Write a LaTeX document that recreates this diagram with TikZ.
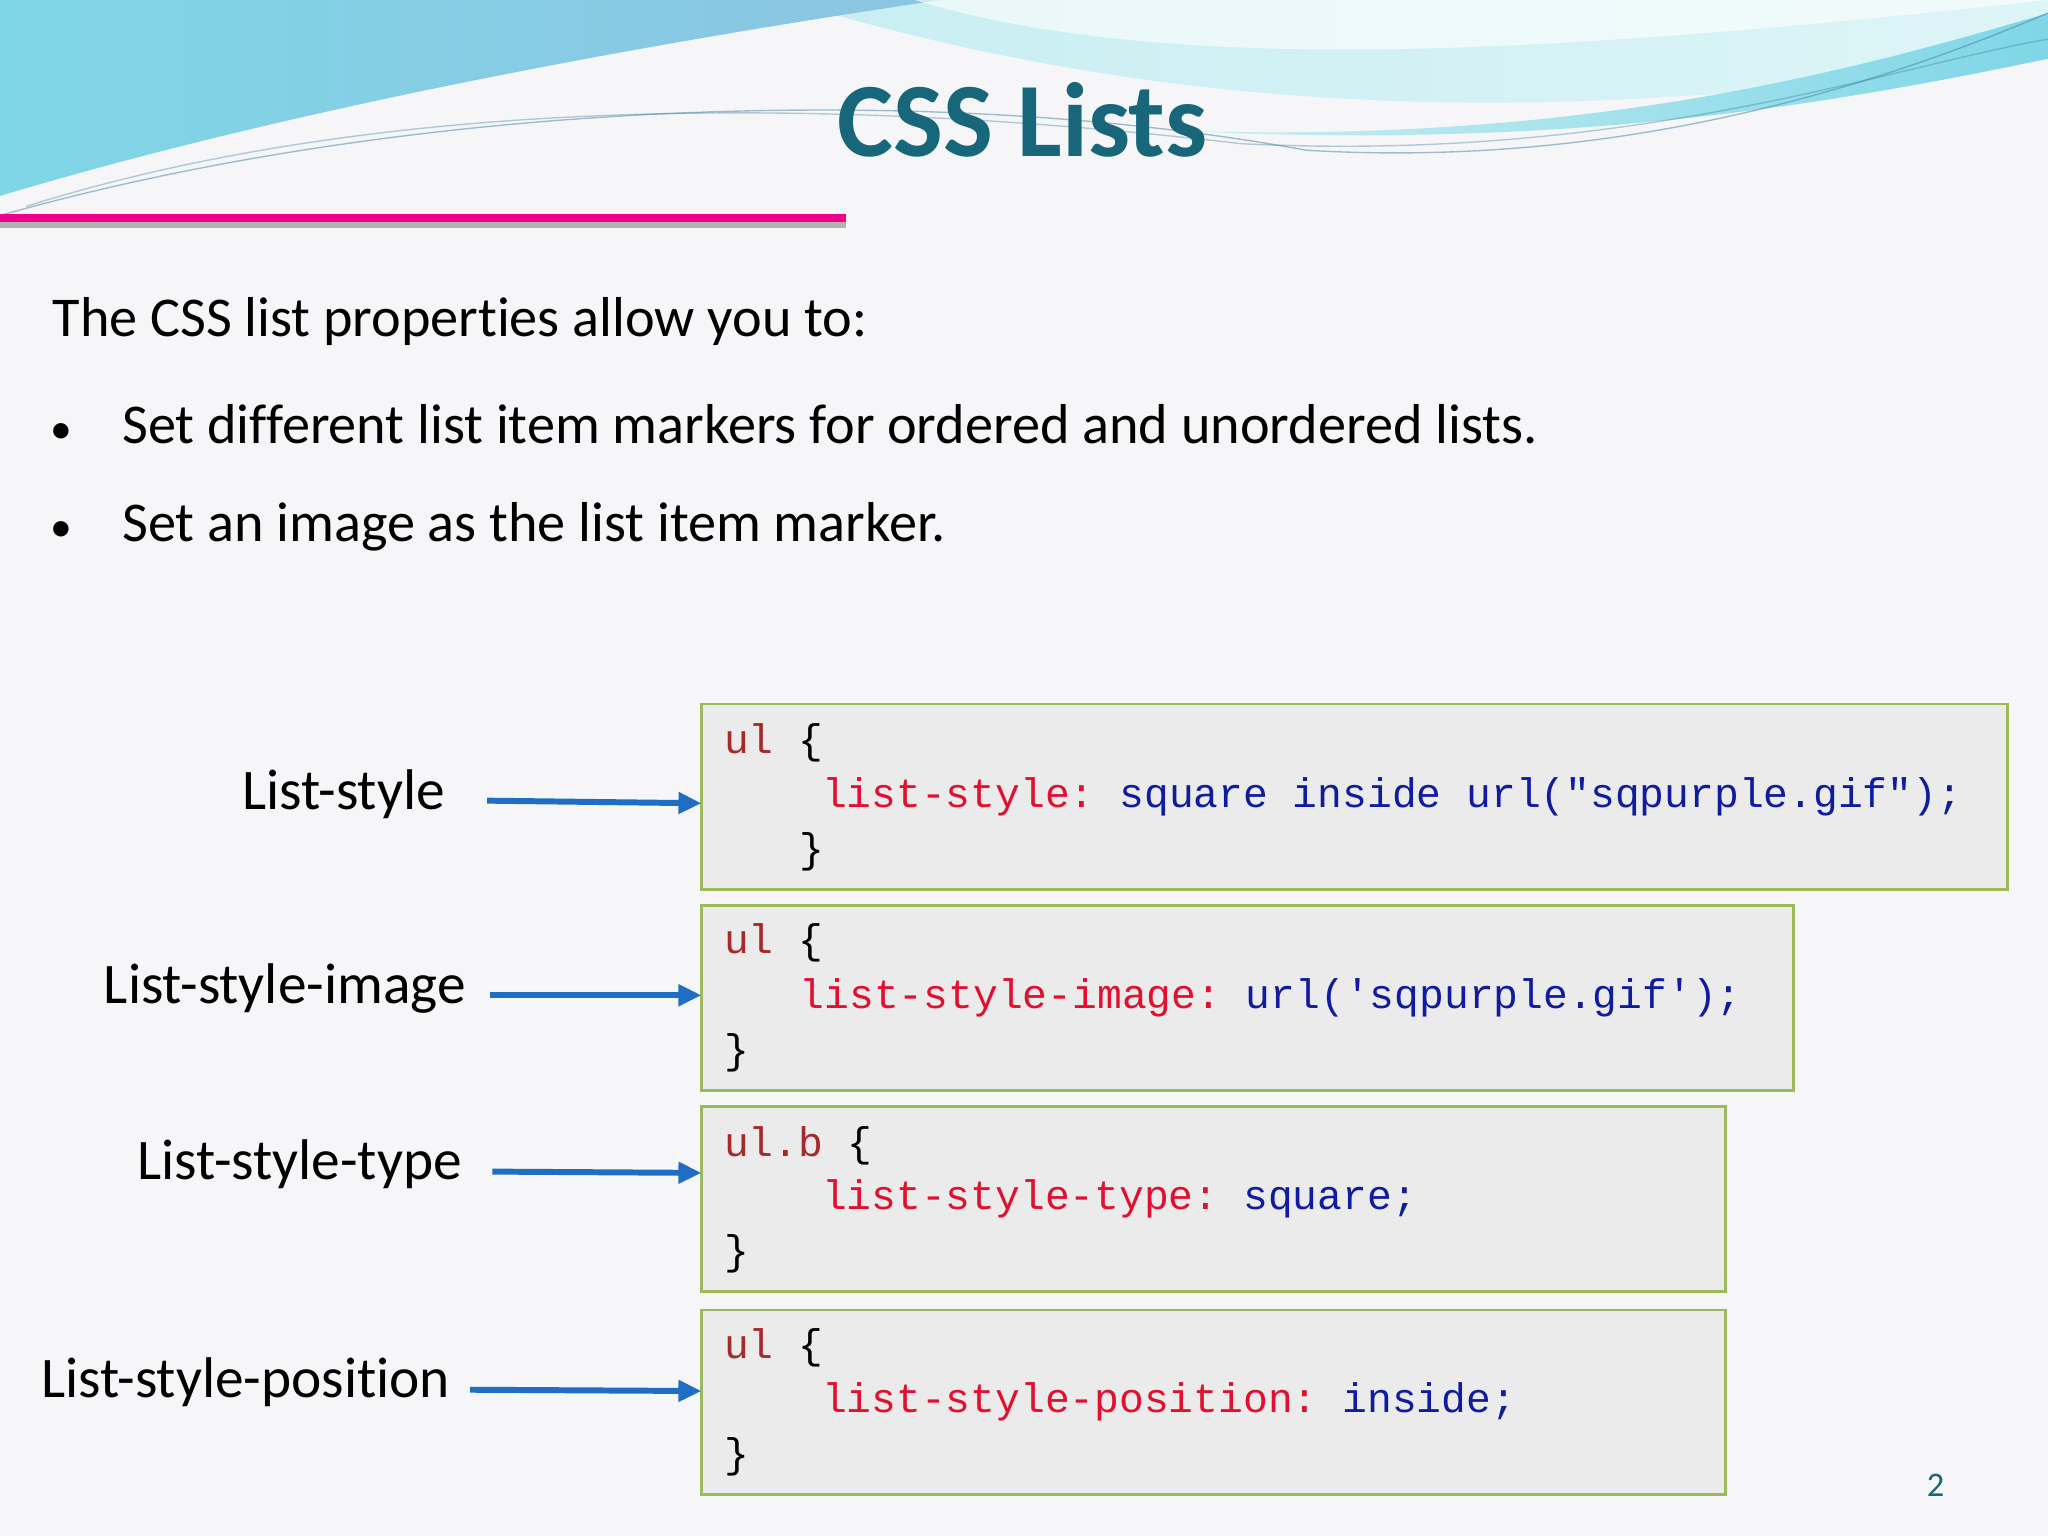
\documentclass[tikz,border=0pt]{standalone}
\usepackage{fontspec}
\setmainfont{Carlito}[Ligatures={NoCommon}]
\setmonofont{Liberation Mono}
\usetikzlibrary{arrows.meta}
\definecolor{bgc}{HTML}{F6F6F8}
\definecolor{boxf}{HTML}{EBEBEB}
\definecolor{boxd}{HTML}{9BBB59}
\definecolor{arr}{HTML}{1F6EC4}
\definecolor{kw}{HTML}{A52A2A}
\definecolor{prop}{HTML}{E0102E}
\definecolor{val}{HTML}{0F1CA0}
\definecolor{ttl}{HTML}{17667A}
\definecolor{wa}{HTML}{7FD6E6}
\definecolor{wb}{HTML}{8CC4E2}
\definecolor{wc}{HTML}{C8EEF2}
\tikzset{
  codebox/.style={draw=boxd,line width=1.2pt,fill=boxf},
  code/.style={anchor=west,font=\fontsize{18}{21}\ttfamily,inner sep=0pt},
  lab/.style={anchor=east,font=\fontsize{25}{29}\selectfont,inner sep=0pt},
  body/.style={anchor=west,font=\fontsize{24.5}{28}\selectfont,inner sep=0pt},
  conn/.style={draw=arr,line width=2.6pt,-{Triangle[length=10pt,width=9pt]}}
}
\begin{document}
\begin{tikzpicture}[x=0.02cm,y=-0.02cm]
\useasboundingbox (0,0) rectangle (1568,1176);
\fill[bgc] (0,0) rectangle (1568,1176);
% header waves
\shade[left color=wc,right color=wc!60!white] (600,0) .. controls (800,60) and (1100,120) .. (1568,40) -- (1568,0) -- cycle;
\shade[left color=wa,right color=wb] (0,0) -- (0,150) .. controls (200,90) and (450,40) .. (720,0) -- cycle;
\fill[white,opacity=0.6] (700,0) .. controls (900,60) and (1200,40) .. (1568,0) -- cycle;
\shade[left color=wc,right color=wa] (900,100) .. controls (1200,110) and (1400,60) .. (1568,10) -- (1568,45) .. controls (1400,80) and (1200,115) .. (900,100);
\draw[cyan!60!black,opacity=0.5,line width=0.6pt] (0,165) .. controls (300,80) and (700,60) .. (1000,115) .. controls (1250,130) and (1450,60) .. (1568,10);
\draw[cyan!60!black,opacity=0.4,line width=0.6pt] (20,158) .. controls (300,70) and (650,75) .. (950,110) .. controls (1250,125) and (1450,50) .. (1568,30);
% title
\node[font=\fontsize{46}{54}\bfseries,text=ttl,inner sep=0pt] (title) at (783,92) {CSS Lists};
% magenta rule
\draw[gray!60,line width=4pt] (0,171) -- (648,171);
\draw[magenta,line width=3.5pt] (0,167) -- (648,167);
% body
\node[body] (intro) at (40,246) {The CSS list properties allow you to:};
\node[body] (b1) at (38,325) {{\fontsize{19}{20}\selectfont•}\hspace{22pt}Set different list item markers for ordered and unordered lists.};
\node[body] (b2) at (38,403) {{\fontsize{19}{20}\selectfont•}\hspace{22pt}Set an image as the list item marker.};
% boxes
\draw[codebox] (537,539) rectangle (1537,681); \coordinate (t1) at (537,615);
\draw[codebox] (537,693) rectangle (1373,835); \coordinate (t2) at (537,762);
\draw[codebox] (537,847) rectangle (1321,989); \coordinate (t3) at (537,898);
\draw[codebox] (537,1003) rectangle (1321,1144); \coordinate (t4) at (537,1065);
% code
\node[code] (c11) at (554,569) {\textcolor{kw}{ul} \{};
\node[code] (c12) at (629,610) {\textcolor{prop}{list-style:} \textcolor{val}{square inside url("sqpurple.gif");}};
\node[code] (c13) at (612,652) {\}};
\node[code] (c21) at (554,722) {\textcolor{kw}{ul} \{};
\node[code] (c22) at (612,764) {\textcolor{prop}{list-style-image:} \textcolor{val}{url('sqpurple.gif');}};
\node[code] (c23) at (554,806) {\}};
\node[code] (c31) at (554,877) {\textcolor{kw}{ul.b} \{};
\node[code] (c32) at (629,918) {\textcolor{prop}{list-style-type:} \textcolor{val}{square;}};
\node[code] (c33) at (554,960) {\}};
\node[code] (c41) at (554,1032) {\textcolor{kw}{ul} \{};
\node[code] (c42) at (629,1073) {\textcolor{prop}{list-style-position:} \textcolor{val}{inside;}};
\node[code] (c43) at (554,1115) {\}};
% labels
\node[lab] (l1) at (341,608) {List-style};
\node[lab] (l2) at (357,757) {List-style-image};
\node[lab] (l3) at (354,891) {List-style-type};
\node[lab] (l4) at (345,1058) {List-style-position};
\coordinate (s1) at (373,613);
\coordinate (s2) at (375,762);
\coordinate (s3) at (377,897);
\coordinate (s4) at (360,1064);
\draw[conn] (s1) -- (t1);
\draw[conn] (s2) -- (t2);
\draw[conn] (s3) -- (t3);
\draw[conn] (s4) -- (t4);
\node[font=\fontsize{15}{18}\selectfont,text=ttl] (pg) at (1482,1137) {2};
\end{tikzpicture}
\end{document}
